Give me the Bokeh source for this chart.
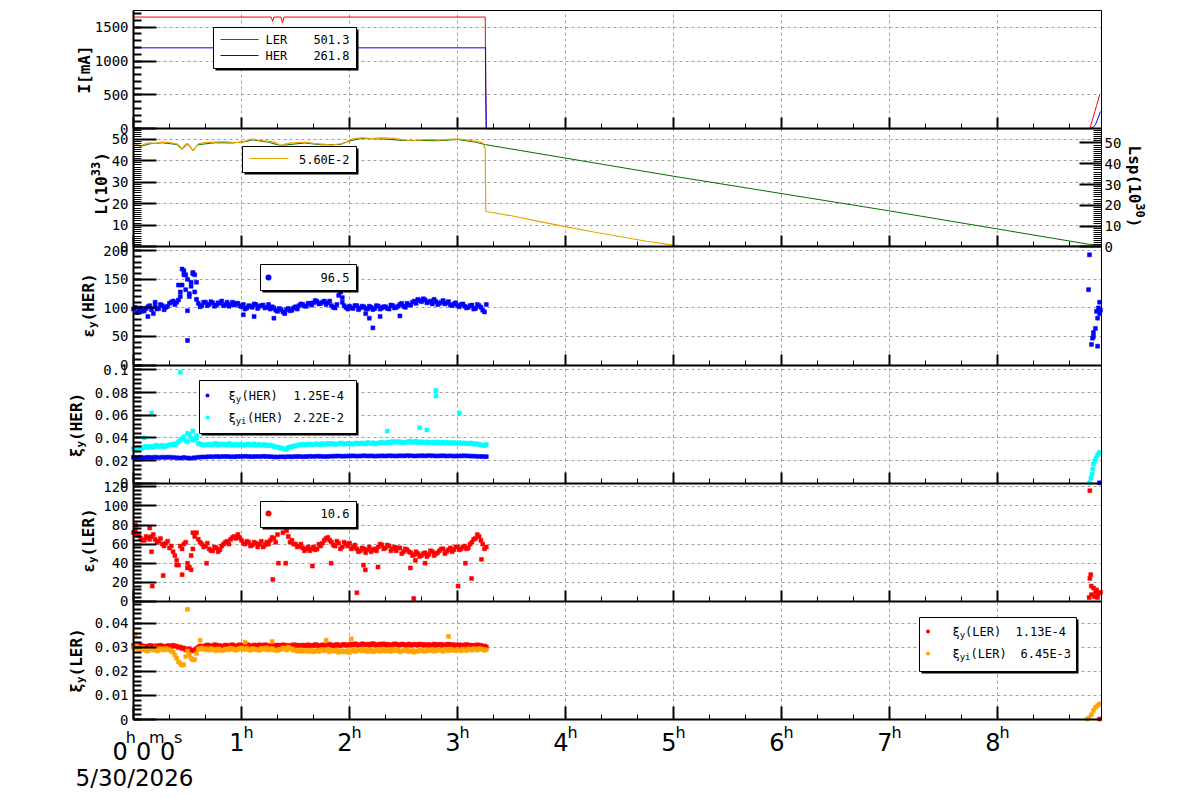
from math import pi
import numpy as np
from bokeh.plotting import figure
from bokeh.models import (Range1d, LinearAxis, Grid, SingleIntervalTicker, FixedTicker, CustomJSTickFormatter,
                          Label, LabelSet, BoxAnnotation, ColumnDataSource)
from bokeh.core.properties import value
from bokeh.embed import file_html
from bokeh.resources import INLINE

# ---------------- data (time in minutes after 0h) ----------------
scan_min = [0, 2, 4, 6, 8, 10, 12, 14, 16, 18, 20, 22, 24, 26, 28, 30, 32, 34, 36, 38,
            40, 42, 44, 46, 48, 50, 52, 54, 56, 58, 60, 62, 64, 66, 68, 70, 72, 74, 76, 78,
            80, 82, 84, 86, 88, 90, 92, 94, 96, 98, 100, 102, 104, 106, 108, 110, 112, 114, 116, 118,
            120, 122, 124, 126, 128, 130, 132, 134, 136, 138, 140, 142, 144, 146, 148, 150, 152, 154, 156, 158,
            160, 162, 164, 166, 168, 170, 172, 174, 176, 178, 180, 182, 184, 186, 188, 190, 192, 194, 196]
scan_odd_min = [1, 3, 5, 7, 9, 11, 13, 15, 17, 19, 21, 23, 25, 27, 29, 31, 33, 35, 37, 39,
                41, 43, 45, 47, 49, 51, 53, 55, 57, 59, 61, 63, 65, 67, 69, 71, 73, 75, 77, 79,
                81, 83, 85, 87, 89, 91, 93, 95, 97, 99, 101, 103, 105, 107, 109, 111, 113, 115, 117, 119,
                121, 123, 125, 127, 129, 131, 133, 135, 137, 139, 141, 143, 145, 147, 149, 151, 153, 155, 157, 159,
                161, 163, 165, 167, 169, 171, 173, 175, 177, 179, 181, 183, 185, 187, 189, 191, 193, 195]

# beam currents [mA]
ler_min = [0, 76.5, 77.3, 78.0, 82.0, 82.8, 83.6, 195.4, 195.6, 195.9, 531.3, 533.5, 535.0, 536.8]
ler_cur = [1650, 1650, 1586, 1650, 1650, 1562, 1650, 1650, 820, 0, 0, 200, 340, 503]
her_min = [0, 195.6, 195.7, 196.0, 531.7, 533.5, 534.4, 535.5, 537.2]
her_cur = [1195, 1195, 611, 0, 0, 30, 60, 130, 254]

# luminosity L (1e33) and Lsp (1e30)
lum_min = [0, 2, 4, 6, 9, 12, 16, 20, 24, 26,
           27, 28, 30, 32, 33, 34, 36, 40, 45, 50,
           55, 60, 63, 66, 70, 75, 79, 81, 82, 84,
           88, 95, 100, 105, 110, 115, 118, 120, 123, 127,
           132, 138, 145, 150, 155, 160, 165, 170, 175, 180,
           185, 190, 194, 195.4, 195.7, 200, 210, 225, 240, 255,
           270, 285, 300, 305, 420, 537.8]
lum_val = [48.6, 47.5, 46.8, 47.6, 48.2, 48.0, 48.6, 48.3, 47.8, 46.5,
           45.2, 46.8, 48.0, 46.0, 44.6, 45.5, 47.8, 48.3, 48.6, 48.8,
           48.5, 48.3, 49.3, 50.0, 49.4, 48.9, 48.4, 47.2, 46.5, 47.6,
           48.2, 48.5, 48.0, 47.6, 47.2, 47.8, 48.4, 49.5, 50.3, 50.6,
           50.2, 50.5, 50.3, 49.6, 49.2, 49.6, 49.8, 49.5, 49.8, 50.1,
           49.6, 48.9, 48.2, 45.5, 16.4, 15.8, 14.4, 11.8, 9.4, 7.0,
           4.8, 2.6, 0.8, 0.4, 0.4, 0.4]
lsp_min = [0, 4, 9, 16, 24, 27, 30, 33, 36, 45, 55, 63, 66, 75, 81, 84, 95, 105, 115, 120,
           127, 138, 150, 160, 170, 180, 190, 195.6, 300, 420, 531, 537.8]
lsp_val = [50.0, 48.4, 49.6, 50.1, 49.3, 47.0, 49.5, 46.5, 49.2, 50.1, 50.0, 50.8, 51.5, 50.4, 48.9, 49.0, 50.0, 49.1, 49.3, 51.0,
           52.2, 52.0, 51.2, 51.2, 51.1, 51.7, 50.4, 49.2, 34.0, 17.3, 1.2, 1.0]

# vertical emittance HER
eps_her = [98, 92, 100, 95, 102, 97, 103, 99, 104, 101,
           108, 112, 110, 128, 165, 150, 138, 158, 108, 104,
           110, 106, 109, 105, 108, 104, 110, 106, 105, 108,
           102, 98, 104, 101, 106, 103, 105, 101, 98, 100,
           94, 97, 92, 99, 96, 102, 104, 106, 103, 108,
           109, 111, 108, 112, 109, 104, 100, 122, 110, 101,
           103, 99, 104, 100, 102, 98, 101, 99, 103, 100,
           102, 98, 104, 101, 106, 103, 108, 105, 112, 115,
           111, 114, 110, 107, 111, 108, 113, 109, 105, 107,
           104, 106, 103, 101, 105, 99, 104, 96, 106]
eps_her_b = [101, 96, 94, 99, 104, 90, 98, 106, 97, 103,
             110, 106, 114, 140, 158, 120, 160, 145, 102, 110,
             104, 111, 103, 109, 112, 106, 103, 110, 108, 104,
             106, 100, 103, 107, 99, 104, 100, 106, 102, 96,
             99, 93, 97, 95, 100, 98, 107, 103, 108, 105,
             113, 107, 110, 106, 112, 101, 106, 128, 104, 98,
             100, 104, 97, 103, 99, 103, 97, 104, 98, 102,
             99, 105, 100, 103, 108, 101, 105, 110, 108, 113,
             116, 109, 112, 115, 106, 110, 107, 111, 104, 109,
             102, 107, 100, 104, 98, 106, 101, 93]
eh_out_min = [8, 12, 25, 26, 27, 28, 29, 30, 30, 31, 32, 33, 34, 35, 61, 67, 78, 84, 114, 115, 116, 129, 131, 133, 137, 148]
eh_out_val = [85, 110, 140, 120, 168, 158, 132, 43, 95, 125, 145, 162, 128, 115, 88, 85, 82, 90, 133, 128, 118, 90, 82, 65, 85, 86]
eh_end_min = [530.6, 531.1, 532.2, 532.8, 533.3, 533.3, 534.4, 535.0, 535.6, 535.6, 536.1, 536.7, 536.7, 537.2]
eh_end_val = [132, 193, 36, 47, 57, 50, 64, 94, 82, 33, 100, 110, 90, 96]

# beam-beam parameters HER
xi_her = [0.0228, 0.0226, 0.0229, 0.0225, 0.0228, 0.0227, 0.0230, 0.0226, 0.0229, 0.0228,
          0.0230, 0.0227, 0.0224, 0.0222, 0.0226, 0.0223, 0.0221, 0.0225, 0.0229, 0.0231,
          0.0232, 0.0234, 0.0233, 0.0235, 0.0234, 0.0236, 0.0235, 0.0233, 0.0234, 0.0236,
          0.0235, 0.0237, 0.0236, 0.0234, 0.0236, 0.0235, 0.0237, 0.0236, 0.0234, 0.0232,
          0.0231, 0.0233, 0.0232, 0.0234, 0.0233, 0.0235, 0.0236, 0.0234, 0.0235, 0.0237,
          0.0236, 0.0238, 0.0237, 0.0235, 0.0236, 0.0238, 0.0239, 0.0240, 0.0238, 0.0239,
          0.0240, 0.0241, 0.0239, 0.0240, 0.0242, 0.0240, 0.0241, 0.0239, 0.0240, 0.0241,
          0.0240, 0.0242, 0.0241, 0.0240, 0.0242, 0.0241, 0.0243, 0.0242, 0.0240, 0.0241,
          0.0242, 0.0241, 0.0243, 0.0242, 0.0240, 0.0241, 0.0242, 0.0240, 0.0241, 0.0239,
          0.0240, 0.0241, 0.0242, 0.0240, 0.0239, 0.0238, 0.0236, 0.0235, 0.0234]
xh_end_min = [536.7]
xh_end_val = [0.0003]
xii_her = [0.0305, 0.0298, 0.0312, 0.0320, 0.0316, 0.0325, 0.0330, 0.0322, 0.0334, 0.0328,
           0.0338, 0.0345, 0.0352, 0.0380, 0.0410, 0.0365, 0.0395, 0.0392, 0.0350, 0.0342,
           0.0336, 0.0345, 0.0340, 0.0350, 0.0342, 0.0347, 0.0338, 0.0344, 0.0339, 0.0335,
           0.0342, 0.0337, 0.0345, 0.0340, 0.0334, 0.0343, 0.0336, 0.0330, 0.0338, 0.0325,
           0.0318, 0.0310, 0.0302, 0.0315, 0.0322, 0.0330, 0.0338, 0.0344, 0.0340, 0.0346,
           0.0342, 0.0348, 0.0340, 0.0345, 0.0352, 0.0346, 0.0341, 0.0349, 0.0353, 0.0347,
           0.0350, 0.0344, 0.0355, 0.0348, 0.0352, 0.0358, 0.0351, 0.0346, 0.0354, 0.0360,
           0.0356, 0.0362, 0.0368, 0.0360, 0.0365, 0.0357, 0.0362, 0.0370, 0.0364, 0.0358,
           0.0366, 0.0360, 0.0355, 0.0362, 0.0358, 0.0354, 0.0361, 0.0357, 0.0352, 0.0359,
           0.0355, 0.0350, 0.0356, 0.0348, 0.0352, 0.0346, 0.0340, 0.0335, 0.0342]
xii_her_b = [0.0300, 0.0315, 0.0308, 0.0326, 0.0322, 0.0318, 0.0335, 0.0328, 0.0320, 0.0336,
             0.0342, 0.0338, 0.0365, 0.0395, 0.0375, 0.0430, 0.0380, 0.0400, 0.0345, 0.0338,
             0.0342, 0.0338, 0.0348, 0.0336, 0.0345, 0.0340, 0.0350, 0.0334, 0.0343, 0.0341,
             0.0336, 0.0344, 0.0338, 0.0347, 0.0339, 0.0335, 0.0341, 0.0334, 0.0330, 0.0320,
             0.0312, 0.0305, 0.0298, 0.0320, 0.0326, 0.0335, 0.0341, 0.0338, 0.0344, 0.0340,
             0.0346, 0.0342, 0.0350, 0.0341, 0.0348, 0.0352, 0.0345, 0.0354, 0.0343, 0.0351,
             0.0345, 0.0352, 0.0347, 0.0355, 0.0346, 0.0354, 0.0357, 0.0350, 0.0358, 0.0354,
             0.0360, 0.0357, 0.0364, 0.0366, 0.0359, 0.0363, 0.0368, 0.0361, 0.0372, 0.0362,
             0.0358, 0.0364, 0.0360, 0.0356, 0.0363, 0.0359, 0.0355, 0.0360, 0.0356, 0.0352,
             0.0358, 0.0352, 0.0349, 0.0355, 0.0344, 0.0349, 0.0338, 0.0332]
xhi_out_min = [6, 10, 26, 30, 33, 35, 77, 141, 159, 163, 168, 168, 181]
xhi_out_val = [0.0400, 0.0620, 0.0980, 0.0440, 0.0460, 0.0420, 0.0510, 0.0460, 0.0490, 0.0470, 0.0820, 0.0770, 0.0620]
xhi_end_min = [531.3, 531.9, 532.5, 532.9, 533.3, 533.9, 534.7, 535.6, 536.4, 536.9]
xhi_end_val = [0.0005, 0.0044, 0.0080, 0.0124, 0.0168, 0.0195, 0.0220, 0.0248, 0.0266, 0.0272]

# vertical emittance LER
eps_ler = [72, 69, 66, 64, 67, 68, 65, 63, 60, 61,
           56, 52, 43, 58, 60, 40, 48, 68, 65, 60,
           58, 55, 53, 56, 54, 60, 63, 65, 68, 70,
           64, 60, 62, 59, 61, 60, 57, 62, 64, 66,
           70, 85, 78, 68, 64, 60, 58, 56, 55, 53,
           57, 55, 58, 64, 67, 62, 58, 61, 57, 60,
           61, 57, 55, 53, 55, 54, 52, 55, 57, 59,
           56, 58, 55, 53, 56, 52, 54, 51, 49, 50,
           48, 51, 49, 52, 50, 53, 55, 52, 56, 54,
           57, 55, 58, 56, 62, 66, 68, 60, 57]
eps_ler_b = [75, 70, 64, 68, 65, 70, 62, 66, 58, 63,
             58, 48, 38, 55, 62, 36, 55, 72, 62, 57,
             61, 53, 57, 52, 58, 62, 60, 67, 66, 67,
             61, 63, 58, 62, 57, 63, 59, 60, 67, 62,
             80, 72, 74, 62, 60, 57, 60, 53, 57, 55,
             54, 60, 61, 66, 64, 59, 63, 55, 62, 58,
             55, 59, 52, 56, 51, 57, 54, 53, 60, 55,
             59, 53, 57, 56, 50, 55, 52, 48, 52, 47,
             50, 47, 53, 48, 51, 55, 50, 54, 52, 57,
             54, 57, 55, 60, 65, 70, 64, 55]
el_out_min = [1, 9, 10, 16.5, 24, 27, 30, 32, 33, 40.6, 77.4, 80.5, 81.4, 82.4, 83.3, 84.6, 86.1, 87, 87.9, 99.4,
              109.8, 124.1, 127.8, 128.8, 135.8, 153.8, 155.7, 156.6, 162, 180.3, 184.4, 187.8, 193.3, 10.4]
el_out_val = [80, 77, 52, 27, 38, 28, 35, 33, 72, 40, 23, 40, 91, 103, 87, 40, 83, 87, 80, 37,
              40, 9, 38, 33, 36, 35, 3, 43, 40, 16, 40, 24, 44, 16]
el_end_min = [530.9, 531.3, 531.3, 531.8, 532.1, 532.2, 533.3, 533.9, 534.4, 535.0, 535.6, 536.1, 537.2]
el_end_val = [4, 116, 24, 28, 16, 7, 14, 5, 9.5, 12, 4, 8, 9.5]

# beam-beam parameters LER
xi_ler = [0.0308, 0.0305, 0.0310, 0.0306, 0.0304, 0.0307, 0.0305, 0.0303, 0.0306, 0.0304,
          0.0307, 0.0309, 0.0305, 0.0302, 0.0298, 0.0292, 0.0288, 0.0290, 0.0301, 0.0305,
          0.0307, 0.0309, 0.0306, 0.0310, 0.0308, 0.0305, 0.0307, 0.0309, 0.0306, 0.0308,
          0.0310, 0.0307, 0.0309, 0.0306, 0.0308, 0.0311, 0.0307, 0.0309, 0.0306, 0.0308,
          0.0310, 0.0308, 0.0305, 0.0307, 0.0309, 0.0306, 0.0308, 0.0310, 0.0307, 0.0305,
          0.0308, 0.0310, 0.0307, 0.0309, 0.0311, 0.0308, 0.0306, 0.0309, 0.0311, 0.0310,
          0.0312, 0.0310, 0.0313, 0.0311, 0.0314, 0.0312, 0.0310, 0.0313, 0.0311, 0.0312,
          0.0310, 0.0312, 0.0311, 0.0313, 0.0310, 0.0312, 0.0309, 0.0311, 0.0313, 0.0310,
          0.0311, 0.0309, 0.0312, 0.0310, 0.0308, 0.0311, 0.0309, 0.0312, 0.0310, 0.0308,
          0.0309, 0.0307, 0.0310, 0.0308, 0.0306, 0.0309, 0.0307, 0.0304, 0.0302]
xi_ler_b = [0.0302, 0.0309, 0.0304, 0.0301, 0.0308, 0.0303, 0.0307, 0.0309, 0.0302, 0.0307,
            0.0303, 0.0306, 0.0300, 0.0296, 0.0290, 0.0295, 0.0286, 0.0296, 0.0306, 0.0302,
            0.0310, 0.0304, 0.0311, 0.0306, 0.0303, 0.0310, 0.0305, 0.0311, 0.0304, 0.0311,
            0.0306, 0.0312, 0.0305, 0.0310, 0.0304, 0.0308, 0.0311, 0.0305, 0.0310, 0.0304,
            0.0306, 0.0311, 0.0309, 0.0304, 0.0311, 0.0310, 0.0305, 0.0308, 0.0311, 0.0308,
            0.0312, 0.0305, 0.0311, 0.0307, 0.0313, 0.0310, 0.0313, 0.0307, 0.0313, 0.0309,
            0.0314, 0.0315, 0.0310, 0.0315, 0.0311, 0.0314, 0.0316, 0.0310, 0.0314, 0.0315,
            0.0313, 0.0309, 0.0315, 0.0311, 0.0314, 0.0311, 0.0314, 0.0310, 0.0312, 0.0314,
            0.0313, 0.0311, 0.0309, 0.0314, 0.0312, 0.0313, 0.0310, 0.0314, 0.0312, 0.0311,
            0.0311, 0.0309, 0.0312, 0.0310, 0.0308, 0.0311, 0.0309, 0.0306]
xl_end_min = [536.7]
xl_end_val = [0.0002]
xii_ler = [0.0300, 0.0305, 0.0295, 0.0290, 0.0285, 0.0292, 0.0297, 0.0288, 0.0293, 0.0296,
           0.0290, 0.0280, 0.0255, 0.0232, 0.0228, 0.0285, 0.0255, 0.0250, 0.0292, 0.0298,
           0.0295, 0.0289, 0.0293, 0.0286, 0.0291, 0.0288, 0.0294, 0.0297, 0.0290, 0.0293,
           0.0298, 0.0294, 0.0290, 0.0296, 0.0292, 0.0288, 0.0295, 0.0299, 0.0293, 0.0290,
           0.0287, 0.0292, 0.0296, 0.0301, 0.0294, 0.0290, 0.0286, 0.0283, 0.0288, 0.0285,
           0.0282, 0.0287, 0.0290, 0.0286, 0.0293, 0.0288, 0.0284, 0.0280, 0.0286, 0.0283,
           0.0279, 0.0290, 0.0286, 0.0292, 0.0288, 0.0283, 0.0289, 0.0285, 0.0291, 0.0287,
           0.0284, 0.0289, 0.0293, 0.0287, 0.0282, 0.0286, 0.0290, 0.0285, 0.0280, 0.0284,
           0.0288, 0.0283, 0.0287, 0.0291, 0.0286, 0.0289, 0.0284, 0.0290, 0.0293, 0.0288,
           0.0291, 0.0286, 0.0290, 0.0294, 0.0289, 0.0292, 0.0296, 0.0293, 0.0290]
xii_ler_b = [0.0296, 0.0290, 0.0299, 0.0287, 0.0294, 0.0290, 0.0286, 0.0295, 0.0289, 0.0292,
             0.0285, 0.0268, 0.0240, 0.0226, 0.0262, 0.0270, 0.0248, 0.0275, 0.0296, 0.0291,
             0.0290, 0.0296, 0.0289, 0.0294, 0.0287, 0.0292, 0.0290, 0.0295, 0.0288, 0.0296,
             0.0291, 0.0297, 0.0288, 0.0293, 0.0290, 0.0296, 0.0291, 0.0289, 0.0296, 0.0288,
             0.0292, 0.0298, 0.0289, 0.0295, 0.0288, 0.0284, 0.0290, 0.0287, 0.0283, 0.0289,
             0.0285, 0.0283, 0.0291, 0.0289, 0.0282, 0.0287, 0.0290, 0.0284, 0.0281, 0.0288,
             0.0286, 0.0283, 0.0289, 0.0285, 0.0290, 0.0287, 0.0282, 0.0288, 0.0284, 0.0290,
             0.0287, 0.0283, 0.0288, 0.0291, 0.0285, 0.0289, 0.0283, 0.0287, 0.0285, 0.0289,
             0.0285, 0.0290, 0.0288, 0.0284, 0.0291, 0.0287, 0.0292, 0.0286, 0.0290, 0.0287,
             0.0289, 0.0293, 0.0287, 0.0291, 0.0295, 0.0289, 0.0292, 0.0288]
xli_out_min = [1, 30, 37, 62, 77, 107, 121, 175]
xli_out_val = [0.0355, 0.0459, 0.0330, 0.0322, 0.0325, 0.0330, 0.0336, 0.0346]
xli_end_min = [529.8, 531.1, 532.2, 533.3, 534.4, 535.6, 536.7]
xli_end_val = [0.0002, 0.0008, 0.0020, 0.0037, 0.0050, 0.0058, 0.0065]

hour_ticks = [1, 2, 3, 4, 5, 6, 7, 8]

# panel definitions: name, y-min, y-max, major step, minor divisions
panels = [("cur", 0, 1747, 500, 5), ("lum", 0, 54.8, 10, 10), ("ehe", 0, 207, 50, 5),
          ("xhe", 0, 0.1044, 0.02, 5), ("ele", 0, 123.9, 20, 5), ("xle", 0, 0.0492, 0.01, 5)]
lsp_range = (0, 56.9, 10, 10)

# ---------------- geometry (the frame is the whole canvas) ----------------
W, H = 1200, 798
FL, FR, FT, FB = 133, 1101, 10, 719
PXH = 108.0                      # pixels per hour
XMAX = (FR - FL) / PXH
NP = len(panels)
PH = (FB - FT) / NP              # panel height in px

def px2h(px):
    return (px - FL) / PXH

def py2u(py):
    return (FB - py) / PH

def band_range(k, lo, hi):
    top = FT + k * PH
    bot = top + PH
    s = (hi - lo) / (bot - top)
    return Range1d(lo - (H - bot) * s, hi + top * s)

def hrs(m):
    return np.asarray(m, dtype=float) / 60.0

p = figure(width=W, height=H, title=None, toolbar_location=None, tools="", output_backend="svg",
           x_range=Range1d(px2h(0), px2h(W)), y_range=Range1d(py2u(H), py2u(0)),
           y_axis_location=None, min_border=0,
           min_border_left=0, min_border_right=0, min_border_top=0, min_border_bottom=0)
p.outline_line_color = None
p.background_fill_color = "white"
p.border_fill_color = "white"
xa0 = p.below[0]     # the default time axis
# drop the default horizontal grid (it belongs to the unused default y axis)
p.center = [r for r in p.center if not (isinstance(r, Grid) and r.dimension == 1)]

extra = {}
for k, (name, lo, hi, step, nm) in enumerate(panels):
    extra[name] = band_range(k, lo, hi)
extra["lsp"] = band_range(1, lsp_range[0], lsp_range[1])
p.extra_y_ranges = extra

fmt = CustomJSTickFormatter(code="return String(Math.round(tick*1e6)/1e6);")
blank = CustomJSTickFormatter(code="return '';")
GRID = "#a0a0a0"
HAS_CROSS = "cross_bounds" in Grid.properties()

for k, (name, lo, hi, step, nm) in enumerate(panels):
    tk = SingleIntervalTicker(interval=step, num_minor_ticks=nm)
    ax = LinearAxis(y_range_name=name, fixed_location=0, bounds=(lo, hi), ticker=tk, formatter=fmt,
                    major_tick_in=23, major_tick_out=0, minor_tick_in=8, minor_tick_out=0,
                    major_tick_line_width=2, minor_tick_line_width=(1 if nm > 5 else 2), axis_line_width=2,
                    axis_line_color="black", major_tick_line_color="black", minor_tick_line_color="black",
                    major_label_standoff=5, major_label_text_font="DejaVu Sans Mono",
                    major_label_text_font_size="14px", major_label_text_color="black")
    p.add_layout(ax, "left")
    gtk = SingleIntervalTicker(interval=step, num_minor_ticks=0)
    if HAS_CROSS:
        p.add_layout(Grid(dimension=1, y_range_name=name, ticker=gtk, bounds=(lo + step / 2, hi),
                          cross_bounds=(0, XMAX),
                          grid_line_color=GRID, grid_line_dash="3 3", grid_line_width=1))
    else:
        gt = np.arange(step, hi + 1e-12, step)
        p.segment(x0=0, x1=XMAX, y0=gt, y1=gt, y_range_name=name, line_color=GRID,
                  line_dash="3 3", line_width=1, level="underlay")

# right axis for Lsp
tkr = SingleIntervalTicker(interval=lsp_range[2], num_minor_ticks=lsp_range[3])
rax = LinearAxis(y_range_name="lsp", fixed_location=XMAX, bounds=(lsp_range[0], lsp_range[1]), ticker=tkr,
                 formatter=fmt, major_tick_in=22, major_tick_out=0, minor_tick_in=8, minor_tick_out=0,
                 major_tick_line_width=2, minor_tick_line_width=1, axis_line_width=1,
                 major_label_standoff=3, major_label_text_font="DejaVu Sans Mono",
                 major_label_text_font_size="14px", major_label_text_color="black")
p.add_layout(rax, "right")

# x axes: bottom of each panel
xt = SingleIntervalTicker(interval=1, num_minor_ticks=3)
xa0.ticker = xt
xa0.fixed_location = 0
xa0.bounds = (0, XMAX)
xa0.formatter = blank
xa0.major_label_text_font_size = "0px"
xa0.major_tick_in = 13
xa0.major_tick_out = 0
xa0.minor_tick_in = 5
xa0.minor_tick_out = 0
xa0.axis_line_width = 2
xa0.major_tick_line_width = 2
xa0.minor_tick_line_width = 1
for k in range(1, NP):
    xa = LinearAxis(fixed_location=k, bounds=(0, XMAX), ticker=xt, formatter=blank, major_label_text_font_size="0px",
                    major_tick_in=11, major_tick_out=0, minor_tick_in=5, minor_tick_out=0,
                    axis_line_width=2, major_tick_line_width=2, minor_tick_line_width=1,
                    axis_line_color="black")
    p.add_layout(xa, "below")

# frame border (top and right)
p.add_layout(LinearAxis(fixed_location=NP, bounds=(0, XMAX), ticker=FixedTicker(ticks=[]), formatter=blank,
                        axis_line_width=1, major_tick_in=0, major_tick_out=0, minor_tick_in=0, minor_tick_out=0,
                        major_label_text_font_size="0px"), "above")
p.add_layout(LinearAxis(fixed_location=XMAX, bounds=(0, NP), ticker=FixedTicker(ticks=[]), formatter=blank,
                        axis_line_width=1, major_tick_in=0, major_tick_out=0, minor_tick_in=0, minor_tick_out=0,
                        major_label_text_font_size="0px"), "right")

xgrids = [r for r in p.center if isinstance(r, Grid) and r.dimension == 0]
if HAS_CROSS:
    for g in xgrids:
        g.ticker = SingleIntervalTicker(interval=1, num_minor_ticks=0)
        g.bounds = (0.5, XMAX)
        g.cross_bounds = (0, NP)
        g.grid_line_color = GRID
        g.grid_line_dash = "3 3"
        g.grid_line_width = 1
else:
    for g in xgrids:
        g.visible = False
    p.segment(x0=hour_ticks, x1=hour_ticks, y0=0, y1=NP, line_color=GRID, line_dash="3 3",
              line_width=1, level="underlay")

# ---------------- data glyphs ----------------
RED, BLUE, CYAN, ORANGE, GOLD, GREEN = "#ff0000", "#0000ff", "#00ffff", "#ffa500", "#e8a400", "#006e00"

p.line(hrs(ler_min), ler_cur, color=RED, line_width=1, y_range_name="cur")
p.line(hrs(her_min), her_cur, color=BLUE, line_width=1, y_range_name="cur")

p.line(hrs(lsp_min), lsp_val, color=GREEN, line_width=1, y_range_name="lsp")
p.line(hrs(lum_min), lum_val, color=GOLD, line_width=1.2, y_range_name="lum")

def sc(m, v, color, rng, size=4):
    p.scatter(hrs(m), v, marker="square", size=size, fill_color=color, line_color=color,
              line_width=0.5, y_range_name=rng)

sc(scan_min, eps_her, BLUE, "ehe")
sc(scan_odd_min, eps_her_b, BLUE, "ehe")
sc(eh_out_min, eh_out_val, BLUE, "ehe")
sc(eh_end_min, eh_end_val, BLUE, "ehe")

sc(scan_min, xi_her, BLUE, "xhe")
sc(xh_end_min, xh_end_val, BLUE, "xhe")
sc(scan_min, xii_her, CYAN, "xhe")
sc(scan_odd_min, xii_her_b, CYAN, "xhe")
sc(xhi_out_min, xhi_out_val, CYAN, "xhe")
sc(xhi_end_min, xhi_end_val, CYAN, "xhe")

sc(scan_min, eps_ler, RED, "ele")
sc(scan_odd_min, eps_ler_b, RED, "ele")
sc(el_out_min, el_out_val, RED, "ele")
sc(el_end_min, el_end_val, RED, "ele")

sc(scan_min, xi_ler, RED, "xle")
sc(scan_odd_min, xi_ler_b, RED, "xle")
sc(xl_end_min, xl_end_val, RED, "xle")
sc(scan_min, xii_ler, ORANGE, "xle")
sc(scan_odd_min, xii_ler_b, ORANGE, "xle")
sc(xli_out_min, xli_out_val, ORANGE, "xle")
sc(xli_end_min, xli_end_val, ORANGE, "xle")

# ---------------- annotations (image-pixel helpers; frame == canvas) ----------------
def sx(px):
    return px

def sy(py):
    return H - py

def box(l, t, r, b, **kw):
    p.add_layout(BoxAnnotation(left=sx(l), right=sx(r), top=sy(t), bottom=sy(b),
                               left_units="screen", right_units="screen",
                               top_units="screen", bottom_units="screen", **kw))

def legend_box(l, t, r, b):
    box(l + 2, t + 2, r + 2, b + 2, fill_color="black", fill_alpha=1, line_color=None)
    box(l, t, r, b, fill_color="white", fill_alpha=1, line_color="black", line_alpha=1, line_width=1)

def sample_line(x0, x1, y, color):
    box(x0, y - 0.6, x1, y + 0.6, fill_color=color, fill_alpha=1, line_color=None)

def dot(cx, cy, d, color):
    box(cx - d / 2, cy - d / 2, cx + d / 2, cy + d / 2, fill_color=color, fill_alpha=1,
        line_color=None, border_radius=int(d // 2))

def txt(x, y, s, size=12, align="left", baseline="middle", font="DejaVu Sans Mono", style="normal", angle=0):
    p.add_layout(Label(x=sx(x), y=sy(y), x_units="screen", y_units="screen", text=s,
                       text_font=font, text_font_size=f"{size}px", text_font_style=style,
                       text_align=align, text_baseline=baseline, text_color="black", angle=angle))

# legend 1 : currents
legend_box(213, 27, 356, 68)
sample_line(220, 258, 39, RED)
sample_line(220, 258, 55, BLUE)
txt(265, 39, "LER"); txt(349, 39, "501.3", align="right")
txt(265, 55, "HER"); txt(349, 55, "261.8", align="right")

# legend 2 : luminosity
legend_box(242, 146, 356, 172)
sample_line(249, 288, 158, GOLD)
txt(349, 159, "5.60E-2", align="right")

# legend 3 : eps HER
legend_box(260, 264, 356, 290)
dot(268, 277, 6, BLUE)
txt(349, 277, "96.5", align="right")

# legend 4 : xi HER
legend_box(199, 380, 356, 433)
dot(207, 395, 4, BLUE)
dot(207, 417, 4, CYAN)
txt(228, 395, "\u03be"); txt(235.2, 398.5, "y", size=9); txt(241, 395, "(HER)"); txt(293, 395, "1.25E-4")
txt(228, 417, "\u03be"); txt(235.2, 420.5, "yi", size=9); txt(246.5, 417, "(HER)"); txt(293, 417, "2.22E-2")

# legend 5 : eps LER
legend_box(260, 501, 356, 527)
dot(268, 513, 6, RED)
txt(349, 513, "10.6", align="right")

# legend 6 : xi LER
legend_box(919, 617, 1076, 671)
dot(927.5, 631, 4, RED)
dot(927.5, 653, 4, ORANGE)
txt(952, 631, "\u03be"); txt(959.2, 634.5, "y", size=9); txt(964.6, 631, "(LER)"); txt(1015, 631, "1.13E-4")
txt(952, 653, "\u03be"); txt(959.2, 656.5, "yi", size=9); txt(970.1, 653, "(LER)"); txt(1020, 653, "6.45E-3")

# rotated axis titles
def vtitle(cx, cy, pieces, up=True):
    total = sum(len(t) * 0.602 * s for t, s, _ in pieces)
    pos = cy + total / 2 if up else cy - total / 2
    for t, s, rz in pieces:
        dx = -rz if up else rz
        txt(cx + dx, pos, t, size=s, style="bold", angle=(pi / 2 if up else -pi / 2))
        w = len(t) * 0.602 * s
        pos = pos - w if up else pos + w

vtitle(84, 69, [("I[mA]", 16, 0)])
vtitle(101, 183, [("L(10", 16, 0), ("33", 12, 6), (")", 16, 0)])
vtitle(88, 305, [("\u03b5", 16, 0), ("y", 11, -4), ("(HER)", 16, 0)])
vtitle(75.5, 424.5, [("\u03be", 16, 0), ("y", 11, -4), ("(HER)", 16, 0)])
vtitle(88, 540, [("\u03b5", 16, 0), ("y", 11, -4), ("(LER)", 16, 0)])
vtitle(76, 660, [("\u03be", 16, 0), ("y", 11, -4), ("(LER)", 16, 0)])
vtitle(1134, 186, [("Lsp(10", 16, 0), ("30", 12, 6), (")", 16, 0)], up=False)

# time-axis labels
hsrc = ColumnDataSource(dict(x=hour_ticks, t=[str(h) for h in hour_ticks], s=["h"] * len(hour_ticks)))
p.add_layout(LabelSet(source=hsrc, x="x", y=H - 750, y_units="screen", text="t",
                      text_font=value("DejaVu Sans"), text_font_size=value("24px"),
                      text_align=value("right"), text_baseline=value("alphabetic"), x_offset=3,
                      text_color=value("black")))
p.add_layout(LabelSet(source=hsrc, x="x", y=H - 737, y_units="screen", text="s",
                      text_font=value("DejaVu Sans"), text_font_size=value("16px"),
                      text_align=value("left"), text_baseline=value("alphabetic"), x_offset=2,
                      text_color=value("black")))

def xl(x, s, size, base):
    txt(x, base, s, size=size, align="left", baseline="alphabetic", font="DejaVu Sans")

xl(112, "0", 24, 750); xl(125.3, "h", 16, 737)
xl(135.5, "0", 24, 750); xl(148.5, "m", 16, 737)
xl(159.5, "0", 24, 750); xl(173.5, "s", 16, 737)
xl(75, "5/30/2026", 23, 777)

open("out.html", "w").write(file_html(p, INLINE))
